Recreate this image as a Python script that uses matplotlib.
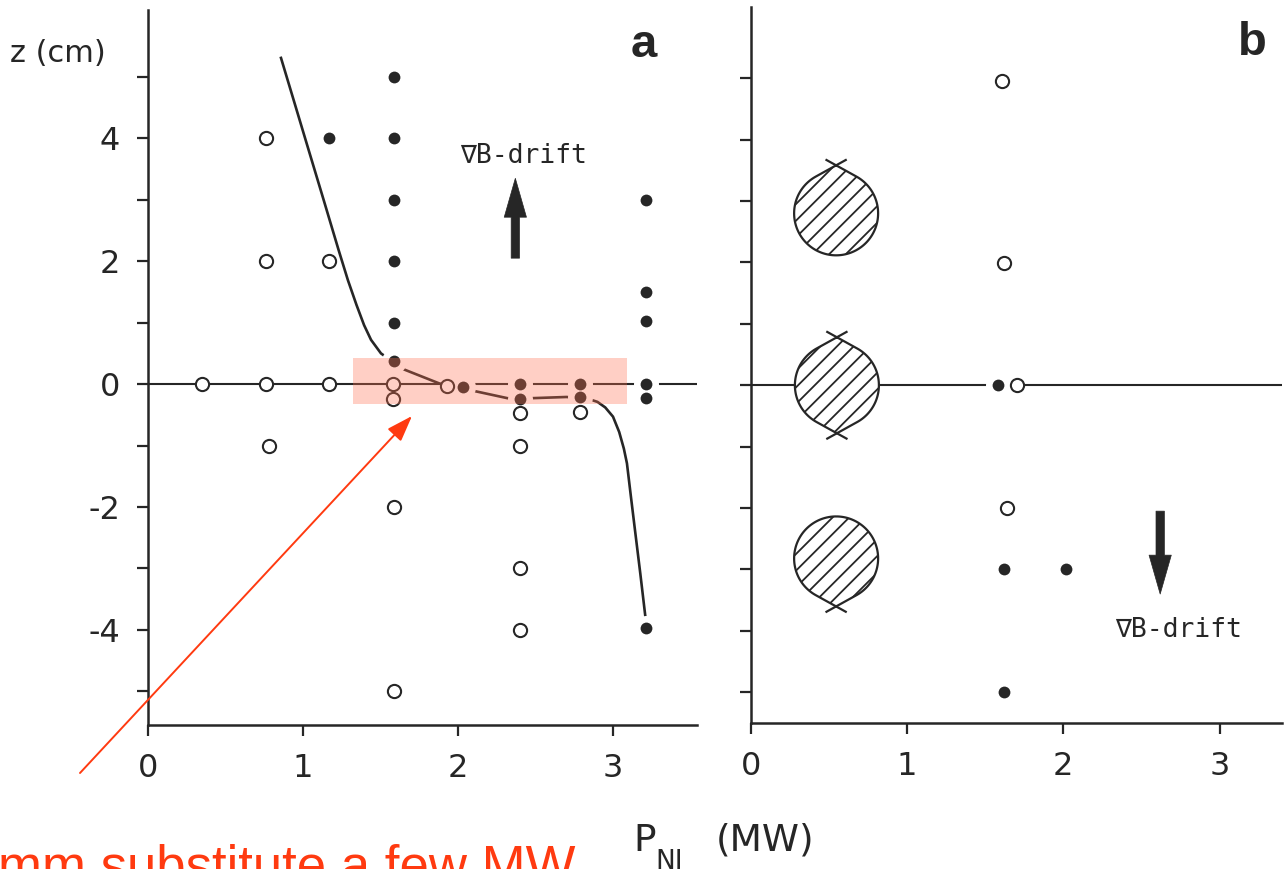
import numpy as np
import matplotlib.pyplot as plt
import matplotlib.transforms as mtransforms
from matplotlib.patches import PathPatch, FancyArrowPatch, Rectangle
from matplotlib.path import Path
from matplotlib.lines import Line2D

plt.rcParams['font.family'] = ['DejaVu Sans']
plt.rcParams['hatch.linewidth'] = 1.3

ink = '#262626'
red = '#ff3a10'

# axis ticks
x_ticks = [0, 1, 2, 3]
x_ticklabels = ['0', '1', '2', '3']
z_ticks = [-5, -4, -3, -2, -1, 0, 1, 2, 3, 4, 5]
z_ticklabels_a = ['', '-4', '', '-2', '', '0', '', '2', '', '4', '']

# panel a : open and full circles (P_NI in MW, z in cm)
open_a_p = [0.35, 0.76, 0.76, 0.76, 0.78, 1.17, 1.17, 1.58, 1.58, 1.59, 1.59, 1.93, 2.40, 2.40, 2.40, 2.40, 2.79]
open_a_z = [0.0, 4.0, 2.0, 0.0, -1.0, 2.0, 0.0, 0.0, -0.25, -2.0, -5.0, -0.03, -0.47, -1.0, -3.0, -4.0, -0.45]
full_a_p = [1.17, 1.59, 1.59, 1.59, 1.59, 1.59, 1.59, 2.03, 2.40, 2.40, 2.79, 2.79, 3.21, 3.21, 3.21, 3.21, 3.21, 3.21]
full_a_z = [4.0, 5.0, 4.0, 3.0, 2.0, 1.0, 0.37, -0.05, 0.0, -0.25, 0.0, -0.21, 3.0, 1.5, 1.02, 0.0, -0.22, -3.97]

# panel a : boundary curve
curve_p = [0.858, 0.939, 1.021, 1.133, 1.230, 1.290, 1.345, 1.394, 1.439, 1.503, 1.58,
           1.65, 1.88, 2.10, 2.32, 2.47, 2.70, 2.84, 2.90, 2.95, 3.00, 3.04, 3.07, 3.09,
           3.116, 3.142, 3.176, 3.21]
curve_z = [5.31, 4.63, 3.94, 3.00, 2.18, 1.69, 1.29, 0.96, 0.72, 0.50, 0.36,
           0.24, 0.01, -0.11, -0.23, -0.23, -0.21, -0.24, -0.29, -0.38, -0.53, -0.78, -1.05, -1.29,
           -1.84, -2.38, -3.08, -3.81]

# panel b
open_b_p = [1.61, 1.62, 1.70, 1.64]
open_b_z = [4.95, 1.99, 0.0, -2.0]
full_b_p = [1.58, 1.62, 2.02, 1.62]
full_b_z = [0.0, -3.0, -3.0, -5.0]

# plasma cross sections in panel b (centre, x-point on top / bottom)
blob_p = [0.545, 0.55, 0.545]
blob_z = [2.80, 0.0, -2.82]
blob_top = [True, True, False]
blob_bottom = [False, True, True]

fig = plt.figure(figsize=(12.87, 8.69), dpi=100)
ax_a = fig.add_axes([148 / 1287, 144 / 869, 549 / 1287, 715 / 869])
ax_b = fig.add_axes([751 / 1287, 146 / 869, 531 / 1287, 716 / 869])


def style(ax, xmax, zmin, zmax):
    ax.set_xlim(0, xmax)
    ax.set_ylim(zmin, zmax)
    for s in ['top', 'right']:
        ax.spines[s].set_visible(False)
    for s in ['left', 'bottom']:
        ax.spines[s].set_linewidth(1.8)
        ax.spines[s].set_color(ink)
    ax.set_xticks(x_ticks, x_ticklabels)
    ax.tick_params(direction='out', length=8, width=1.6, color=ink,
                   labelsize=23, labelcolor=ink, pad=12)


def points(ax, op, oz, fp, fz):
    # white halo round the full dots cuts the lines like in the drawing
    ax.plot(fp, fz, 'o', ms=18, color='white', mec='none', zorder=3)
    ax.plot(op, oz, 'o', ms=9.5, mfc='white', mec=ink, mew=1.5, zorder=4)
    ax.plot(fp, fz, 'o', ms=8.5, color=ink, mec='none', zorder=4)


def blob(ax, p, z, top, bottom, R=42, H=48, arm=11):
    g = np.arccos(R / H)
    pts = []
    if top:
        pts.append((0, H))
    a = np.linspace(g if top else 0, np.pi - g if bottom else np.pi, 60)
    pts += list(zip(R * np.sin(a), R * np.cos(a)))
    if bottom:
        pts.append((0, -H))
    a = np.linspace(np.pi + g if bottom else np.pi, 2 * np.pi - g if top else 2 * np.pi, 60)
    pts += list(zip(R * np.sin(a), R * np.cos(a)))
    pts.append(pts[0])
    tr = mtransforms.Affine2D() + mtransforms.ScaledTranslation(p, z, ax.transData)
    ax.add_patch(PathPatch(Path(pts), transform=tr, fc='white', ec=ink, lw=1.6,
                           hatch='//', zorder=3))
    # crossing legs at the x-points
    for sgn, on in [(1, top), (-1, bottom)]:
        if not on:
            continue
        A = np.array([0, sgn * H])
        for side in [1, -1]:
            T = np.array([side * R * np.sin(g), sgn * R * np.cos(g)])
            u = (A - T) / np.hypot(*(A - T))
            E = A + arm * u
            ax.add_line(Line2D([A[0], E[0]], [A[1], E[1]], transform=tr,
                               color=ink, lw=1.6, zorder=3))


# ---- panel a
style(ax_a, 3.542, -5.55, 6.09)
ax_a.set_yticks(z_ticks, z_ticklabels_a)
ax_a.axhline(0, color=ink, lw=1.5, zorder=2)
ax_a.plot(curve_p, curve_z, color=ink, lw=1.9, zorder=2, solid_joinstyle='round')
points(ax_a, open_a_p, open_a_z, full_a_p, full_a_z)
ax_a.annotate('', xy=(2.37, 3.35), xytext=(2.37, 2.05),
              arrowprops=dict(arrowstyle='simple,head_length=1.4,head_width=0.8,tail_width=0.3',
                              mutation_scale=20, fc=ink, ec=ink, lw=0.5, shrinkA=0, shrinkB=0))
ax_a.text(2.42, 3.60, '∇B-drift', fontsize=19, family=['DejaVu Sans Mono', 'DejaVu Sans'],
          color=ink, ha='center', va='baseline')
ax_a.add_patch(Rectangle((1.323, -0.326), 1.767, 0.749, fc='#ff7050', ec='none',
                         alpha=0.33, zorder=10))

# ---- panel b
style(ax_b, 3.40, -5.50, 6.16)
ax_b.set_yticks(z_ticks)
ax_b.tick_params(axis='y', labelleft=False)
ax_b.axhline(0, color=ink, lw=1.5, zorder=2)
points(ax_b, open_b_p, open_b_z, full_b_p, full_b_z)
for p, z, t, b in zip(blob_p, blob_z, blob_top, blob_bottom):
    blob(ax_b, p, z, t, b)
ax_b.annotate('', xy=(2.62, -3.40), xytext=(2.62, -2.05),
              arrowprops=dict(arrowstyle='simple,head_length=1.4,head_width=0.8,tail_width=0.3',
                              mutation_scale=20, fc=ink, ec=ink, lw=0.5, shrinkA=0, shrinkB=0))
ax_b.text(2.74, -4.10, '∇B-drift', fontsize=19, family=['DejaVu Sans Mono', 'DejaVu Sans'],
          color=ink, ha='center', va='baseline')

# ---- labels
fig.text(10 / 1287, 1 - 62 / 869, 'z (cm)', fontsize=22, color=ink, ha='left', va='baseline')
fig.text(644 / 1287, 1 - 57 / 869, 'a', fontsize=34, weight='bold', family='Liberation Sans',
         color=ink, ha='center', va='baseline')
fig.text(1252 / 1287, 1 - 55 / 869, 'b', fontsize=34, weight='bold', family='Liberation Sans',
         color=ink, ha='center', va='baseline')
fig.text(633 / 1287, 1 - 851 / 869, 'P', fontsize=27, color=ink, ha='left', va='baseline')
fig.text(655 / 1287, 1 - 869 / 869, 'NI', fontsize=19, color=ink, ha='left', va='baseline')
fig.text(716 / 1287, 1 - 851 / 869, '(MW)', fontsize=27, color=ink, ha='left', va='baseline')

# ---- red annotation
fig.text(-2 / 1287, 1 - 883 / 869, 'mm substitute a few MW', fontsize=38, color=red,
         family='Liberation Sans', ha='left', va='baseline')
fig.add_artist(FancyArrowPatch((80 / 1287, 1 - 773 / 869), (412 / 1287, 1 - 416 / 869),
                               transform=fig.transFigure, color=red, lw=1.4,
                               arrowstyle='-|>,head_length=0.8,head_width=0.28',
                               mutation_scale=20, shrinkA=0, shrinkB=0))

fig.savefig('out.png', dpi=100, facecolor='white')
